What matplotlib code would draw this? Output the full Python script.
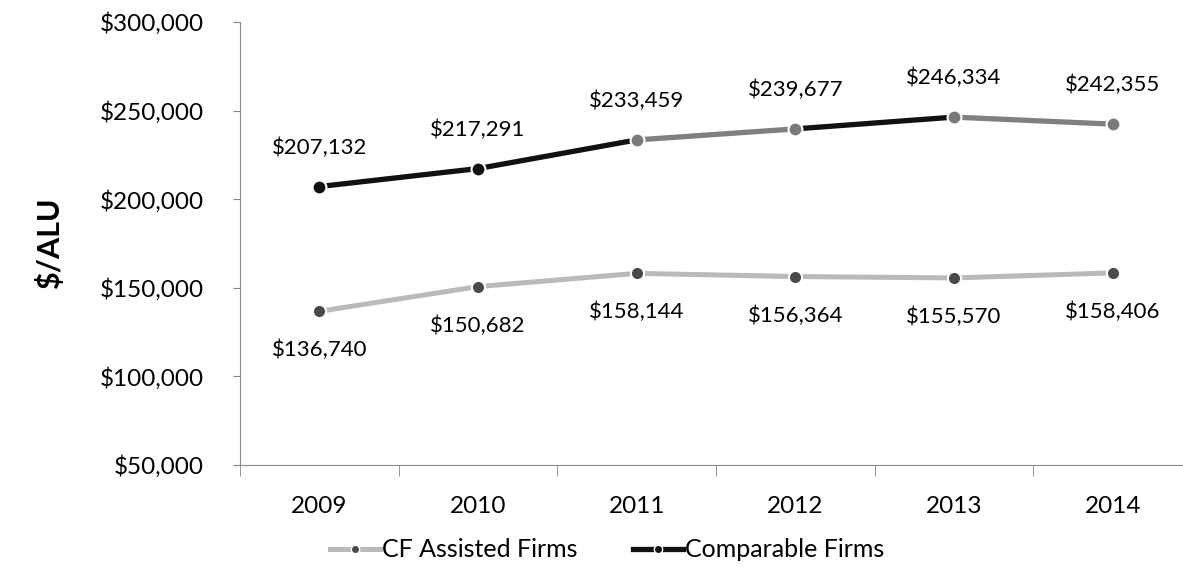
import matplotlib.pyplot as plt
from matplotlib.lines import Line2D

# datos
years = ['2009', '2010', '2011', '2012', '2013', '2014']
cf_assisted = [136740, 150682, 158144, 156364, 155570, 158406]
comparable = [207132, 217291, 233459, 239677, 246334, 242355]

# colores del escaneo (tramos del grafico de comparables)
comp_seg_colors = ['#111111', '#111111', '#808080', '#111111', '#808080']
comp_mark_colors = ['#111111', '#111111', '#7a7a7a', '#7a7a7a', '#7a7a7a', '#7a7a7a']

plt.rcParams['font.family'] = ['Lato', 'DejaVu Sans']

fig = plt.figure(figsize=(11.83, 5.67), dpi=100)
ax = fig.add_axes([240 / 1183, 1 - 465 / 567, 952 / 1183, 443 / 567])

x = list(range(len(years)))

# CF Assisted Firms
ax.plot(x, cf_assisted, color='#bababa', lw=3.6, solid_capstyle='butt', zorder=2)
ax.plot(x, cf_assisted, ls='none', marker='o', ms=9.5, mfc='#4a4a4a',
        mec='white', mew=1.5, zorder=3)

# Comparable Firms, tramo por tramo
for i in range(len(x) - 1):
    ax.plot(x[i:i + 2], comparable[i:i + 2], color=comp_seg_colors[i], lw=3.8,
            solid_capstyle='butt', zorder=2)
for i in x:
    ax.plot(i, comparable[i], ls='none', marker='o', ms=10, mfc=comp_mark_colors[i],
            mec='white', mew=1.5, zorder=3)

# etiquetas de datos
for i in x:
    ax.annotate(f'${comparable[i]:,}', (i, comparable[i]), xytext=(0, 28),
                textcoords='offset points', ha='center', va='center', fontsize=16)
    ax.annotate(f'${cf_assisted[i]:,}', (i, cf_assisted[i]), xytext=(0, -28),
                textcoords='offset points', ha='center', va='center', fontsize=16)

ax.set_xlim(-0.5, 5.5)
ax.set_ylim(50000, 300000)
ax.set_yticks(range(50000, 300001, 50000))
ax.set_yticklabels([f'${v:,}' for v in range(50000, 300001, 50000)])
ax.set_xticks(x)
ax.set_xticklabels(years)
ax.set_xticks([i - 0.5 for i in range(len(years) + 1)], minor=True)
ax.tick_params(axis='x', which='major', length=0, pad=22, labelsize=17.5)
ax.tick_params(axis='x', which='minor', length=8, color='#888888')
ax.tick_params(axis='y', length=5, color='#888888', pad=21, labelsize=17.5)

for s in ['top', 'right']:
    ax.spines[s].set_visible(False)
ax.spines['left'].set_color('#888888')
ax.spines['bottom'].set_color('#888888')

ax.set_ylabel('$/ALU', fontsize=22, fontweight='bold', labelpad=26)

handles = [
    Line2D([], [], color='#bababa', lw=3.6, marker='o', ms=6, mfc='#4a4a4a', mec='white'),
    Line2D([], [], color='#111111', lw=3.8, marker='o', ms=6, mfc='#111111', mec='white'),
]
fig.legend(handles, ['CF Assisted Firms', 'Comparable Firms'], loc='center',
           bbox_to_anchor=(0.513, 0.03), ncol=2, frameon=False, fontsize=18,
           handlelength=2.0, handletextpad=0.1, columnspacing=2.2)

fig.savefig('out.png', dpi=100)
